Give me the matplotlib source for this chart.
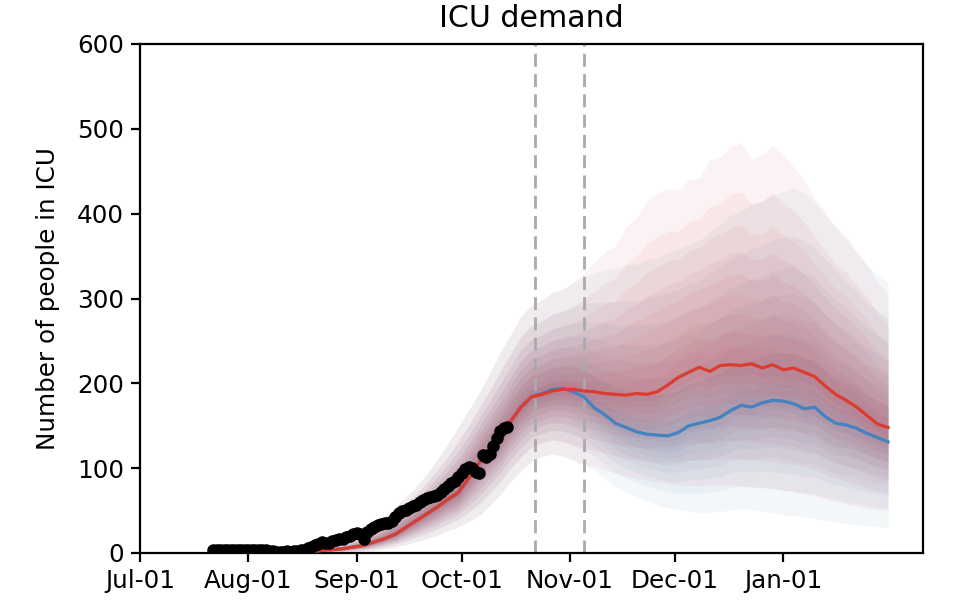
import numpy as np
import pandas as pd
import matplotlib
matplotlib.use("Agg")
import matplotlib.pyplot as plt
import matplotlib.dates as mdates

# ---------------- data ----------------
obs_start = "2020-07-22"
obs_icu = [3, 4, 4, 3, 4, 4, 4, 3, 4, 4, 3, 4, 4, 4, 3, 3,
           2, 2, 1, 1, 1, 2, 1, 2, 2, 3, 4,
           6, 7, 9, 11, 13, 12, 12, 14, 15, 16, 17, 19, 20, 22, 24, 22, 16,
           25, 28, 31, 33, 34, 35, 35, 38, 43, 47, 49, 51, 53, 55, 57, 60,
           63, 65, 66, 67, 68, 72, 76, 79, 82, 85, 89, 94, 99, 101, 100, 96,
           94, 115, 113, 117, 126, 135, 144, 147, 149]

model_start = "2020-07-23"   # model output every 3 days
model_step = "3D"

red_med = [0, 0, 0, 0.5, 0.5, 0.5, 1, 1, 1.5, 2, 3, 4, 5, 7, 9, 13, 17, 22,
           30, 38, 46, 54, 63, 71, 88, 106, 122, 136, 155, 172, 184, 187, 191,
           193, 193, 191,
           190, 188, 187, 186, 188, 187, 190, 198, 207, 213, 219, 214, 221, 222,
           221, 223, 218, 222, 216, 218, 213, 208, 197, 187, 180, 172, 162, 152, 148]

blue_med = [0, 0, 0, 0.5, 0.5, 0.5, 1, 1, 1.5, 2, 3, 4, 5, 7, 9, 13, 17, 22,
            30, 38, 46, 54, 63, 71, 88, 106, 122, 136, 155, 172, 184, 188, 193,
            194, 190, 184,
            171, 163, 153, 148, 143, 140, 139, 138, 142, 150, 153, 156, 160, 168,
            174, 172, 177, 180, 179, 176, 170, 172, 161, 153, 151, 147, 141, 136, 131]

upper_shared = [1, 1, 1, 2, 2, 2, 3, 3, 4, 5, 6, 8, 12, 17, 23, 32, 43, 54, 66, 78,
                93, 110, 128, 148, 168, 189, 211, 236, 257, 279, 292, 298, 307, 311, 319]
lower_shared = [0, 0, 0, 0, 0, 0, 0, 0, 0, 0, 0, 0.5, 1, 1.5, 2, 3, 5, 7, 10, 13,
                17, 21, 26, 31, 37, 44, 56, 69, 84, 97, 108, 114, 117, 114, 109]

red_upper_after = [330, 342, 355, 362, 384, 395, 414, 424, 430, 428, 440, 442, 463, 466,
                   480, 483, 464, 470, 481, 468, 455, 440, 418, 402, 384, 374, 356, 341,
                   320, 305]
red_lower_after = [104, 102, 98, 94, 91, 88, 86, 84, 82, 80, 80, 79, 80, 80, 80, 79, 78,
                   77, 76, 74, 72, 70, 67, 64, 61, 58, 55, 53, 51, 50]
blue_upper_after = [325, 330, 334, 336, 340, 340, 346, 348, 354, 358, 364, 368, 380, 388,
                    398, 402, 412, 415, 422, 426, 430, 424, 414, 398, 384, 368, 354, 338,
                    328, 318]
blue_lower_after = [104, 98, 88, 78, 72, 66, 62, 57, 53, 51, 49, 48, 48, 49, 51, 52, 51,
                    49, 47, 45, 44, 43, 41, 39, 37, 35, 33, 32, 31, 30]

intervention_dates = ["2020-10-22", "2020-11-05"]
xlim_dates = ["2020-07-01", "2021-02-10"]
tick_dates = ["2020-07-01", "2020-08-01", "2020-09-01", "2020-10-01",
              "2020-11-01", "2020-12-01", "2021-01-01"]
y_ticks = [0, 100, 200, 300, 400, 500, 600]
# relative width of each quantile band (outer = 1)
band_levels = [1.0, 0.78, 0.63, 0.51, 0.41, 0.32, 0.23, 0.15, 0.08]

# ---------------- build ----------------
obs_dates = pd.date_range(obs_start, periods=len(obs_icu), freq="D")
model_dates = pd.date_range(model_start, periods=len(red_med), freq=model_step)

red_med_a = np.array(red_med, float)
blue_med_a = np.array(blue_med, float)
red_up = np.array(upper_shared + red_upper_after, float)
red_lo = np.array(lower_shared + red_lower_after, float)
blue_up = np.array(upper_shared + blue_upper_after, float)
blue_lo = np.array(lower_shared + blue_lower_after, float)

RED_BAND = "#c8323a"
BLUE_BAND = "#3a78b0"
RED_LINE = "#dc3b30"
BLUE_LINE = "#4482c0"

fig = plt.figure(figsize=(9.6, 6.14), dpi=100)
ax = fig.add_axes([140 / 960, 1 - 553 / 614, (923 - 140) / 960, (553 - 44) / 614])

for med, up, lo, col in [(blue_med_a, blue_up, blue_lo, BLUE_BAND),
                         (red_med_a, red_up, red_lo, RED_BAND)]:
    for f in band_levels:
        ax.fill_between(model_dates, med - f * (med - lo), med + f * (up - med),
                        color=col, alpha=0.06, linewidth=0, zorder=1)

for d in intervention_dates:
    ax.axvline(pd.Timestamp(d), color="#aaaaaa", lw=2.0, dashes=(4.7, 2.6), zorder=2)

ax.plot(model_dates, blue_med_a, color=BLUE_LINE, lw=2.3, zorder=3)
ax.plot(model_dates, red_med_a, color=RED_LINE, lw=2.3, zorder=4)
ax.plot(obs_dates, obs_icu, "o", color="black", ms=8, zorder=5)

ax.set_xlim(pd.Timestamp(xlim_dates[0]), pd.Timestamp(xlim_dates[1]))
ax.set_ylim(0, 600)
ax.set_yticks(y_ticks)
ax.set_xticks([pd.Timestamp(t) for t in tick_dates])
ax.xaxis.set_major_formatter(mdates.DateFormatter("%b-%d"))

for s in ax.spines.values():
    s.set_linewidth(1.6)
ax.tick_params(axis="both", labelsize=17.7, length=6.5, width=1.6, pad=5)
ax.set_ylabel("Number of people in ICU", fontsize=17.7, labelpad=12)
ax.set_title("ICU demand", fontsize=21.6, pad=12)

fig.savefig("out.png", dpi=100)
